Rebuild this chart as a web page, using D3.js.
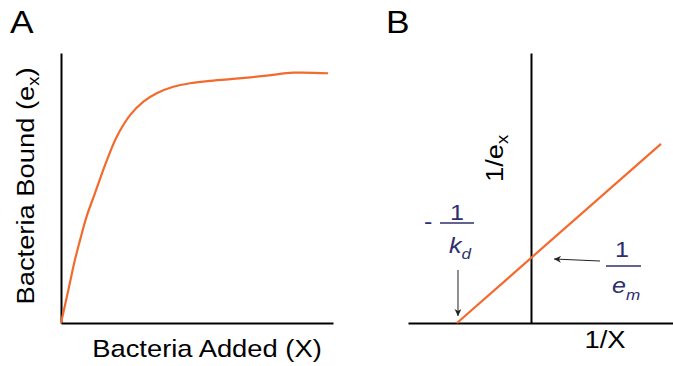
<!DOCTYPE html>
<html>
<head>
<meta charset="utf-8">
<script src="https://cdn.jsdelivr.net/npm/d3@7"></script>
<style>
  body { margin: 0; background: #fff; }
  text { font-family: "Liberation Sans", Arial, sans-serif; }
</style>
</head>
<body>
<div id="chart"></div>
<script>
// Panel A: saturation curve (arbitrary units, 0-10)
var addedX = [0, 0.27, 0.51, 0.70, 0.94, 1.25, 1.65, 2.05, 2.54, 3.03, 3.52, 4.13, 4.74, 5.40, 6.32, 7.56, 8.54, 9.82];
var boundY = [0, 1.22, 2.33, 3.07, 3.94, 4.81, 5.93, 6.90, 7.70, 8.20, 8.51, 8.75, 8.88, 8.96, 9.04, 9.16, 9.27, 9.25];

// Panel B: double reciprocal line, from -1/kd to the right end
var invX = [-1, 1.757];
var invY = [0, 2.757];
var kdIntercept = -1;   // -1/kd on the x axis
var emIntercept = 1;    // 1/em on the y axis

var orange = "#f26a2c";
var navy = "#2d2f6e";
var stretch = 1.14;     // the original lettering is a bit wider than Arial

var svg = d3.select("#chart")
  .append("svg")
  .attr("width", 673)
  .attr("height", 366);

// arrow head
svg.append("defs").append("marker")
  .attr("id", "head")
  .attr("viewBox", "0 0 10 10")
  .attr("refX", 10)
  .attr("refY", 5)
  .attr("markerWidth", 7)
  .attr("markerHeight", 7)
  .attr("markerUnits", "userSpaceOnUse")
  .attr("orient", "auto")
  .append("path")
  .attr("d", "M0,0 L10,5 L0,10 L3,5 Z")
  .attr("fill", "#222");

function label(g, x, y, size, rot) {
  return g.append("text")
    .attr("transform", `translate(${x},${y})` + (rot ? " rotate(-90)" : "") + ` scale(${stretch},1)`)
    .attr("font-size", size);
}

// ---------- Panel A ----------
var xA = d3.scaleLinear().domain([0, 10]).range([61, 333]);
var yA = d3.scaleLinear().domain([0, 10]).range([323, 53]);

var gA = svg.append("g");

gA.append("g")
  .attr("transform", "translate(0,323)")
  .call(d3.axisBottom(xA).ticks(0).tickSizeOuter(0))
  .select(".domain").attr("stroke", "#000").attr("stroke-width", 2);

gA.append("g")
  .attr("transform", "translate(61,0)")
  .call(d3.axisLeft(yA).ticks(0).tickSizeOuter(0))
  .select(".domain").attr("stroke", "#000").attr("stroke-width", 2);

var curveA = d3.line()
  .x(function (d, i) { return xA(addedX[i]); })
  .y(function (d, i) { return yA(boundY[i]); })
  .curve(d3.curveCatmullRom.alpha(0.5));

gA.append("path")
  .attr("d", curveA(addedX))
  .attr("fill", "none")
  .attr("stroke", orange)
  .attr("stroke-width", 2.2);

label(gA, 10, 33, 31).text("A");

label(gA, 207, 357, 24).attr("text-anchor", "middle").text("Bacteria Added (X)");

var yLabA = label(gA, 34, 186, 24, true).attr("text-anchor", "middle");
yLabA.append("tspan").text("Bacteria Bound (e");
yLabA.append("tspan").attr("font-size", 16).attr("dy", 5).text("x");
yLabA.append("tspan").attr("dy", -5).text(")");

// ---------- Panel B ----------
var xB = d3.scaleLinear().domain([-1.662, 1.919]).range([408, 673]);
var yB = d3.scaleLinear().domain([0, 4.154]).range([323, 53]);

var gB = svg.append("g");

gB.append("g")
  .attr("transform", "translate(0," + yB(0) + ")")
  .call(d3.axisBottom(xB).ticks(0).tickSizeOuter(0))
  .select(".domain").attr("stroke", "#000").attr("stroke-width", 2);

gB.append("g")
  .attr("transform", "translate(" + xB(0) + ",0)")
  .call(d3.axisLeft(yB).ticks(0).tickSizeOuter(0))
  .select(".domain").attr("stroke", "#000").attr("stroke-width", 2);

var lineB = d3.line()
  .x(function (d, i) { return xB(invX[i]); })
  .y(function (d, i) { return yB(invY[i]); });

gB.append("path")
  .attr("d", lineB(invX))
  .attr("fill", "none")
  .attr("stroke", orange)
  .attr("stroke-width", 2.2);

label(gB, 386, 33, 31).text("B");

label(gB, 605, 348, 24).attr("text-anchor", "middle").text("1/X");

var yLabB = label(gB, 503, 182, 24, true);
yLabB.append("tspan").text("1/e");
yLabB.append("tspan").attr("font-size", 16).attr("dy", 5).text("x");

// -1/kd label and arrow
var kx = xB(kdIntercept);
label(gB, 424, 229, 22).attr("fill", navy).text("-");
label(gB, 457, 220, 22).attr("text-anchor", "middle").attr("fill", navy).text("1");
gB.append("line")
  .attr("x1", 440).attr("x2", 474)
  .attr("y1", 223).attr("y2", 223)
  .attr("stroke", navy).attr("stroke-width", 1.5);
var kd = label(gB, 449, 253, 22).attr("font-style", "italic").attr("fill", navy);
kd.append("tspan").text("k");
kd.append("tspan").attr("font-size", 15).attr("dy", 6).text("d");

gB.append("line")
  .attr("x1", kx + 1).attr("x2", kx + 1)
  .attr("y1", 270).attr("y2", 316)
  .attr("stroke", "#222").attr("stroke-width", 1)
  .attr("marker-end", "url(#head)");

// 1/em label and arrow
var ey = yB(emIntercept);
label(gB, 622, 257, 22).attr("text-anchor", "middle").attr("fill", navy).text("1");
gB.append("line")
  .attr("x1", 606).attr("x2", 641)
  .attr("y1", 266).attr("y2", 266)
  .attr("stroke", navy).attr("stroke-width", 1.5);
var em = label(gB, 612, 293, 22).attr("font-style", "italic").attr("fill", navy);
em.append("tspan").text("e");
em.append("tspan").attr("font-size", 15).attr("dy", 7).text("m");

gB.append("line")
  .attr("x1", 600).attr("x2", 554)
  .attr("y1", ey + 3).attr("y2", ey + 1)
  .attr("stroke", "#222").attr("stroke-width", 1)
  .attr("marker-end", "url(#head)");
</script>
</body>
</html>
